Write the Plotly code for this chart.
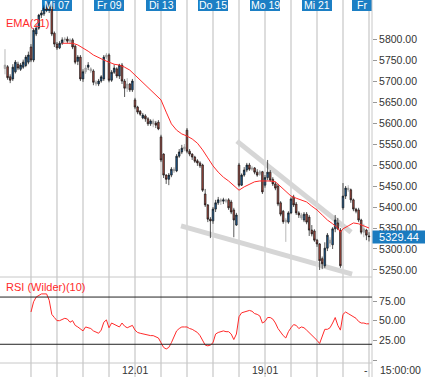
import plotly.graph_objects as go
from plotly.subplots import make_subplots

# ---------------- data ----------------
candle_open = [5730, 5734, 5710, 5705, 5722, 5740, 5728, 5733, 5737, 5745,
               5781, 5750, 5812, 5826, 5857, 5860, 5874, 5869, 5876, 5814,
               5788, 5779, 5790, 5798, 5800, 5795, 5798, 5783, 5747, 5757,
               5705, 5722, 5733, 5729, 5724, 5698, 5693, 5700, 5705, 5757,
               5762, 5702, 5721, 5729, 5712, 5738, 5700, 5683, 5693, 5679,
               5655, 5638, 5628, 5612, 5617, 5610, 5598, 5605, 5600, 5602,
               5567, 5526, 5476, 5466, 5476, 5490, 5486, 5521, 5531, 5538,
               5583, 5533, 5526, 5519, 5510, 5505, 5500, 5431, 5405, 5371,
               5367, 5395, 5410, 5417, 5414, 5417, 5417, 5412, 5393, 5357,
               5500, 5452, 5476, 5488, 5500, 5490, 5493, 5483, 5478, 5484,
               5452, 5470, 5483, 5466, 5455, 5450, 5410, 5390, 5369, 5364,
               5386, 5424, 5407, 5386, 5381, 5369, 5383, 5376, 5345, 5343,
               5321, 5312, 5277, 5260, 5302, 5321, 5310, 5348, 5362, 5345,
               5398, 5426, 5445, 5441, 5417, 5395, 5393, 5369, 5340, 5345,
               5331]
candle_high = [5776, 5738, 5716, 5740, 5750, 5746, 5743, 5751, 5762, 5770,
               5788, 5826, 5833, 5860, 5869, 5880, 5884, 5888, 5880, 5818,
               5793, 5795, 5804, 5805, 5806, 5802, 5802, 5786, 5762, 5762,
               5728, 5738, 5745, 5733, 5728, 5702, 5705, 5714, 5762, 5767,
               5766, 5726, 5740, 5733, 5741, 5743, 5705, 5707, 5695, 5705,
               5660, 5641, 5631, 5624, 5621, 5614, 5609, 5610, 5605, 5607,
               5572, 5528, 5478, 5481, 5495, 5495, 5526, 5538, 5548, 5550,
               5588, 5538, 5528, 5522, 5514, 5509, 5503, 5443, 5407, 5376,
               5400, 5417, 5424, 5421, 5422, 5420, 5421, 5417, 5398, 5386,
               5505, 5480, 5495, 5505, 5505, 5498, 5495, 5490, 5488, 5486,
               5476, 5512, 5488, 5471, 5460, 5455, 5414, 5393, 5374, 5390,
               5423, 5429, 5412, 5390, 5386, 5388, 5388, 5381, 5357, 5347,
               5324, 5314, 5282, 5316, 5338, 5328, 5352, 5381, 5374, 5350,
               5457, 5450, 5452, 5444, 5420, 5398, 5398, 5372, 5360, 5348,
               5340]
candle_low = [5716, 5703, 5695, 5700, 5718, 5726, 5724, 5729, 5733, 5740,
              5745, 5745, 5807, 5822, 5850, 5855, 5864, 5862, 5807, 5781,
              5774, 5776, 5786, 5793, 5790, 5788, 5776, 5740, 5738, 5700,
              5698, 5717, 5726, 5719, 5690, 5688, 5688, 5696, 5700, 5752,
              5697, 5698, 5717, 5707, 5705, 5693, 5662, 5674, 5674, 5674,
              5633, 5621, 5617, 5609, 5603, 5593, 5593, 5590, 5588, 5583,
              5507, 5469, 5455, 5452, 5471, 5481, 5483, 5517, 5526, 5533,
              5528, 5521, 5512, 5505, 5498, 5493, 5436, 5400, 5364, 5326,
              5360, 5388, 5405, 5405, 5407, 5409, 5393, 5383, 5328, 5355,
              5448, 5450, 5472, 5483, 5486, 5486, 5478, 5472, 5474, 5431,
              5446, 5464, 5460, 5450, 5440, 5402, 5378, 5360, 5317, 5360,
              5383, 5400, 5381, 5374, 5369, 5364, 5359, 5331, 5330, 5317,
              5305, 5250, 5252, 5255, 5295, 5305, 5300, 5340, 5345, 5255,
              5393, 5419, 5436, 5410, 5390, 5385, 5364, 5335, 5328, 5321,
              5318]
candle_close = [5738, 5708, 5702, 5733, 5745, 5731, 5738, 5745, 5757, 5762,
                5750, 5821, 5826, 5857, 5862, 5874, 5869, 5878, 5812, 5788,
                5779, 5790, 5798, 5800, 5795, 5798, 5781, 5745, 5757, 5705,
                5722, 5731, 5738, 5724, 5697, 5693, 5700, 5710, 5757, 5762,
                5702, 5721, 5731, 5712, 5738, 5700, 5683, 5693, 5679, 5700,
                5638, 5626, 5621, 5619, 5610, 5598, 5605, 5598, 5595, 5586,
                5512, 5476, 5466, 5476, 5490, 5486, 5521, 5531, 5540, 5543,
                5533, 5526, 5519, 5509, 5505, 5498, 5440, 5405, 5371, 5367,
                5395, 5410, 5417, 5414, 5417, 5414, 5398, 5388, 5369, 5381,
                5452, 5476, 5488, 5500, 5490, 5493, 5483, 5476, 5484, 5436,
                5470, 5483, 5464, 5455, 5445, 5407, 5383, 5365, 5364, 5386,
                5419, 5405, 5386, 5381, 5374, 5383, 5364, 5345, 5336, 5321,
                5312, 5272, 5265, 5302, 5333, 5314, 5348, 5369, 5348, 5260,
                5426, 5445, 5441, 5417, 5395, 5390, 5369, 5340, 5348, 5333,
                5329.44]
neutral_candles = [0, 23, 25, 31, 33, 35, 39, 47, 57, 65, 69, 83, 85, 95, 98,
                   108, 114, 125, 132, 138]

ema21_index = [22, 24, 26, 28, 30, 32, 34, 36, 38, 40, 42, 44, 46, 48, 50,
               52, 54, 56, 58, 60, 62, 64, 66, 68, 70, 72, 74, 76, 78, 80,
               82, 84, 86, 88, 90, 92, 94, 96, 98, 100, 102, 104, 106, 108,
               110, 112, 114, 116, 118, 120, 122, 124, 126, 128, 129, 130,
               132, 134, 136, 138, 140]
ema21_value = [5790, 5790, 5790, 5786, 5779, 5771, 5762, 5755, 5750, 5745,
               5740, 5738, 5733, 5726, 5714, 5702, 5690, 5679, 5667, 5655,
               5626, 5598, 5583, 5574, 5569, 5562, 5552, 5536, 5517, 5498,
               5483, 5471, 5462, 5450, 5440, 5448, 5455, 5460, 5462, 5462,
               5462, 5460, 5448, 5436, 5426, 5421, 5417, 5412, 5402, 5393,
               5381, 5369, 5360, 5350, 5340, 5348, 5355, 5362, 5360, 5355,
               5350]

rsi10_first_index = 10
rsi10_value = [61, 74, 80, 82, 84, 84, 84, 76, 58, 54,
               50, 50, 52, 53, 52, 48, 50, 44, 42, 40,
               37, 42, 41, 40, 37, 35, 34, 38, 48, 51,
               41, 47, 45, 43, 42, 47, 43, 41, 43, 44,
               38, 35, 34, 33, 33, 32, 31, 31, 30, 28,
               22, 16, 14, 16, 22, 30, 37, 40, 42, 42,
               42, 40, 39, 37, 35, 31, 24, 19, 18, 19,
               22, 33, 35, 36, 37, 36, 36, 33, 26, 33,
               55, 60, 61, 62, 63, 62, 59, 58, 56, 47,
               49, 54, 54, 52, 47, 40, 35, 31, 28, 36,
               41, 45, 44, 40, 42, 41, 38, 35, 32, 28,
               25, 21, 30, 39, 39, 41, 47, 54, 44, 38,
               58, 61, 59, 57, 55, 53, 49, 47, 47, 46,
               46]

day_start_index = [10, 20, 30, 40, 50, 60, 70, 80, 90, 100, 110, 120, 130, 140]
top_label_index = [20, 40, 60, 80, 100, 120]
top_labels = ["Mi 07", "Fr 09", "Di 13", "Do 15", "Mo 19", "Mi 21"]
last_day_label_index = 140
last_day_label = "Fr"
bottom_label_index = [50, 100]
bottom_labels = ["12.01", "19.01"]
price_ticks = [5250, 5300, 5350, 5400, 5450, 5500, 5550, 5600, 5650, 5700,
               5750, 5800]
rsi_ticks = [0, 25, 50, 75]
rsi_bands = [20, 80]
upper_trend_x = [89.2, 133.1]
upper_trend_y = [5557, 5340]
lower_trend_x = [67.7, 133.5]
lower_trend_y = [5355, 5240]
last_price = 5329.44
last_time = "15:00:00"

# ---------------- styling ----------------
W, H = 425, 377
ML, MR, MT, MB = 0, 53, 0, 14
PW = W - ML - MR            # plot width in px (372)
PH = H - MT - MB            # plot height in px (363)
SPLIT = (PH - 277) / PH     # boundary between price and RSI panels
BLUE = "#1f5f99"
RED = "#ad4d43"
GREY = "#b4b4b4"
TAG = "#1c7fc4"
FONT = "Arial, Liberation Sans, sans-serif"
XR = [-1.92, 141.15]
X_PER_PX = (XR[1] - XR[0]) / PW

fig = make_subplots(rows=2, cols=1, shared_xaxes=True, vertical_spacing=0)

n = len(candle_close)
normal = [i for i in range(n) if i not in neutral_candles]

fig.add_trace(go.Candlestick(
    x=normal,
    open=[candle_open[i] for i in normal],
    high=[candle_high[i] for i in normal],
    low=[candle_low[i] for i in normal],
    close=[candle_close[i] for i in normal],
    increasing=dict(fillcolor=BLUE, line=dict(color="#111111", width=0.7)),
    decreasing=dict(fillcolor=RED, line=dict(color="#111111", width=0.7)),
    whiskerwidth=0, showlegend=False, hoverinfo="skip"), row=1, col=1)

fig.add_trace(go.Candlestick(
    x=neutral_candles,
    open=[candle_open[i] for i in neutral_candles],
    high=[candle_high[i] for i in neutral_candles],
    low=[candle_low[i] for i in neutral_candles],
    close=[candle_close[i] for i in neutral_candles],
    increasing=dict(fillcolor=GREY, line=dict(color="#9a9a9a", width=0.7)),
    decreasing=dict(fillcolor=GREY, line=dict(color="#9a9a9a", width=0.7)),
    whiskerwidth=0, showlegend=False, hoverinfo="skip"), row=1, col=1)

fig.add_trace(go.Scatter(x=ema21_index, y=ema21_value, mode="lines",
                         line=dict(color="#ff2a2a", width=1),
                         showlegend=False, hoverinfo="skip"), row=1, col=1)

rsi_x = [rsi10_first_index + k for k in range(len(rsi10_value))]
fig.add_trace(go.Scatter(x=rsi_x, y=rsi10_value, mode="lines",
                         line=dict(color="#ff2a2a", width=1),
                         showlegend=False, hoverinfo="skip"), row=2, col=1)

shapes = []
bottom_ext = -MB / PH
for d in day_start_index:
    shapes.append(dict(type="line", xref="x", yref="paper", x0=d, x1=d,
                       y0=bottom_ext, y1=1, layer="below",
                       line=dict(color="#d2d2d2", width=1.5)))
# trend lines
shapes.append(dict(type="line", xref="x", yref="y",
                   x0=upper_trend_x[0], x1=upper_trend_x[1],
                   y0=upper_trend_y[0], y1=upper_trend_y[1], layer="below",
                   line=dict(color="#d6d6d6", width=5)))
shapes.append(dict(type="line", xref="x", yref="y",
                   x0=lower_trend_x[0], x1=lower_trend_x[1],
                   y0=lower_trend_y[0], y1=lower_trend_y[1], layer="below",
                   line=dict(color="#d6d6d6", width=5)))
# top date tags (box as shape, text as annotation)
annotations = []
for i, t in zip(top_label_index, top_labels):
    shapes.append(dict(type="rect", xref="x", yref="paper",
                       x0=i - 15 * X_PER_PX, x1=i + 15 * X_PER_PX,
                       y0=1 - 11 / PH, y1=1,
                       fillcolor=TAG, line=dict(width=0), layer="below"))
    annotations.append(dict(text=t, xref="x", yref="paper", x=i,
                            y=1 - 5.5 / PH, xanchor="center",
                            yanchor="middle", showarrow=False,
                            font=dict(color="white", size=10.5, family=FONT)))
shapes.append(dict(type="rect", xref="x", yref="paper",
                   x0=last_day_label_index - 17 * X_PER_PX,
                   x1=last_day_label_index + 3 * X_PER_PX,
                   y0=1 - 11 / PH, y1=1,
                   fillcolor=TAG, line=dict(width=0), layer="below"))
annotations.append(dict(text=last_day_label, xref="x", yref="paper",
                        x=last_day_label_index - 14 * X_PER_PX,
                        y=1 - 5.5 / PH, xanchor="left", yanchor="middle",
                        showarrow=False,
                        font=dict(color="white", size=10.5, family=FONT)))
# panel borders
shapes.append(dict(type="line", xref="paper", yref="paper", x0=0, x1=1,
                   y0=SPLIT, y1=SPLIT, line=dict(color="#c8c8c8", width=1)))
shapes.append(dict(type="line", xref="paper", yref="paper", x0=0, x1=1,
                   y0=0, y1=0, line=dict(color="#c8c8c8", width=1)))
shapes.append(dict(type="line", xref="paper", yref="paper", x0=1, x1=1,
                   y0=bottom_ext, y1=1, line=dict(color="#c8c8c8", width=1)))
for b in rsi_bands:
    shapes.append(dict(type="line", xref="paper", yref="y2", x0=0, x1=1,
                       y0=b, y1=b, line=dict(color="#222222", width=1)))

annotations += [
    dict(text="EMA(21)", xref="paper", yref="paper", x=4 / PW,
         y=(PH - 23) / PH, xanchor="left", yanchor="middle", showarrow=False,
         font=dict(color="#ff2a2a", size=11, family=FONT)),
    dict(text="RSI (Wilder)(10)", xref="paper", yref="paper", x=4 / PW,
         y=(PH - 287) / PH, xanchor="left", yanchor="middle", showarrow=False,
         font=dict(color="#ff2a2a", size=11, family=FONT)),
    dict(text=f"{last_price:.2f}", xref="paper", yref="y", x=1.0,
         y=last_price, xanchor="left", yanchor="middle", showarrow=False,
         bgcolor="#1a7bbf", width=52, height=12, borderpad=0, align="center",
         font=dict(color="white", size=11, family=FONT)),
    dict(text="-", xref="paper", yref="paper", x=366 / PW,
         y=-7 / PH, xanchor="center", yanchor="middle", showarrow=False,
         font=dict(color="#333333", size=10.5, family=FONT)),
    dict(text=last_time, xref="paper", yref="paper", x=1 + 6 / PW,
         y=-7 / PH, xanchor="left", yanchor="middle", showarrow=False,
         font=dict(color="#333333", size=10.5, family=FONT)),
]
for i, t in zip(bottom_label_index, bottom_labels):
    annotations.append(dict(text=t, xref="x", yref="paper", x=i,
                            y=-7 / PH, xanchor="center", yanchor="middle",
                            showarrow=False,
                            font=dict(color="#333333", size=10.5,
                                      family=FONT)))

fig.update_layout(
    width=W, height=H, margin=dict(l=ML, r=MR, t=MT, b=MB),
    paper_bgcolor="white", plot_bgcolor="white", showlegend=False,
    boxgap=0.12, shapes=shapes, annotations=annotations,
    hovermode=False,
    font=dict(family=FONT, size=10.5, color="#333333"),
    xaxis=dict(range=XR, showticklabels=False, showgrid=False,
               zeroline=False, rangeslider=dict(visible=False),
               ticks=""),
    xaxis2=dict(range=XR, showgrid=False, zeroline=False,
                showticklabels=False, ticks="",
                rangeslider=dict(visible=False)),
    yaxis=dict(domain=[SPLIT, 1], range=[5233.3, 5893], side="right",
               showgrid=False, zeroline=False, tickmode="array",
               tickvals=price_ticks,
               ticktext=[f"{v:.2f}" for v in price_ticks],
               ticks="outside", ticklen=4, tickcolor="#999999"),
    yaxis2=dict(domain=[0, SPLIT], range=[-3.8, 105.5], side="right",
                showgrid=False, zeroline=False, tickmode="array",
                tickvals=rsi_ticks,
                ticktext=["" if v == 0 else f"{v:.2f}" for v in rsi_ticks],
                ticks="outside", ticklen=4, tickcolor="#999999"),
)

fig.write_html("out.html",
               config={"displayModeBar": False},
               post_script="document.body.style.margin='0';")
